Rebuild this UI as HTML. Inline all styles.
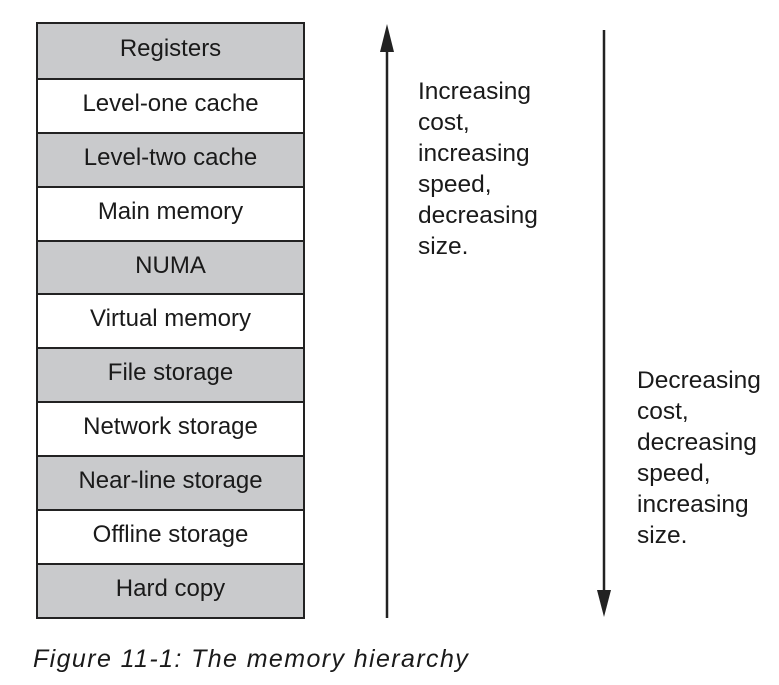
<!DOCTYPE html>
<html><head><style>
body{margin:0;width:779px;height:685px;background:#fff;font-family:"Liberation Sans",sans-serif;position:relative;overflow:hidden}
.stack{position:absolute;left:36px;top:22px;width:269px;border:2px solid #222;box-sizing:border-box}
.r{height:53.9px;box-sizing:border-box;border-top:2px solid #222;display:flex;align-items:center;justify-content:center;font-size:24px;color:#1a1a1a;padding-bottom:4px}
.r:first-child{border-top:none}
.g{background:#c9cacc}
.t{position:absolute;font-size:24.5px;line-height:31px;color:#1a1a1a}
.cap{position:absolute;left:33px;top:645px;font-size:25px;font-style:italic;color:#1a1a1a;letter-spacing:1.4px}
</style></head><body>
<div class="stack">
<div class="r g">Registers</div>
<div class="r">Level-one cache</div>
<div class="r g">Level-two cache</div>
<div class="r">Main memory</div>
<div class="r g">NUMA</div>
<div class="r">Virtual memory</div>
<div class="r g">File storage</div>
<div class="r">Network storage</div>
<div class="r g">Near-line storage</div>
<div class="r">Offline storage</div>
<div class="r g">Hard copy</div>
</div>
<svg width="779" height="685" style="position:absolute;left:0;top:0">
<line x1="387" y1="45" x2="387" y2="618" stroke="#222" stroke-width="2.5"/>
<polygon points="387,24 380,52 394,52" fill="#222"/>
<line x1="604" y1="30" x2="604" y2="595" stroke="#222" stroke-width="2.5"/>
<polygon points="604,617 597,590 611,590" fill="#222"/>
</svg>
<div class="t" style="left:418px;top:76px">Increasing<br>cost,<br>increasing<br>speed,<br>decreasing<br>size.</div>
<div class="t" style="left:637px;top:365px">Decreasing<br>cost,<br>decreasing<br>speed,<br>increasing<br>size.</div>
<div class="cap">Figure 11-1: The memory hierarchy</div>
</body></html>
